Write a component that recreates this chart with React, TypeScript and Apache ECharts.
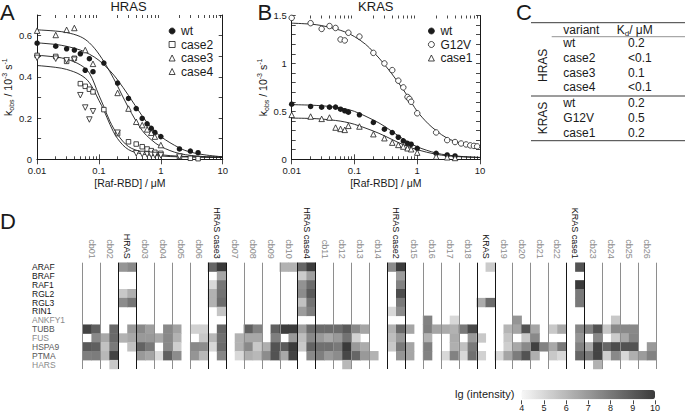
import React, { useEffect, useRef } from 'react';
import * as echarts from 'echarts';

const FONT = '"Liberation Sans", Arial, Helvetica, sans-serif';
const INK = '#1a1a1a';

// ---------------- Panel A : HRAS ----------------
const hrasWt = [[0.01,0.563],[0.02,0.549],[0.03,0.536],[0.04,0.53],[0.05,0.512],[0.06,0.432],[0.07,0.488],[0.08,0.425],[0.12,0.467],[0.2,0.37],[0.3,0.295],[0.4,0.246],[0.5,0.198],[0.6,0.172],[0.7,0.15],[0.8,0.13],[1,0.11],[2,0.05],[3,0.04],[4,0.032]];
const hrasCase2 = [[0.01,0.504],[0.02,0.499],[0.03,0.475],[0.04,0.49],[0.05,0.367],[0.06,0.354],[0.07,0.34],[0.08,0.327],[0.12,0.241],[0.2,0.125],[0.3,0.085],[0.4,0.074],[0.5,0.061],[0.6,0.05],[0.7,0.042],[0.8,0.034],[1,0.029],[2,0.013],[3,0.005],[4,0.003]];
const hrasCase3 = [[0.01,0.624],[0.02,0.603],[0.03,0.628],[0.04,0.637],[0.06,0.53],[0.08,0.463],[0.2,0.322],[0.3,0.246],[0.4,0.182],[0.5,0.166],[0.6,0.145],[0.7,0.129],[0.8,0.11],[1,0.069]];
const hrasCase4 = [[0.01,0.492],[0.02,0.488],[0.03,0.48],[0.04,0.483],[0.05,0.311],[0.06,0.251],[0.07,0.193],[0.08,0.233],[0.2,0.129],[0.4,0.029],[0.5,0.026],[0.6,0.024],[0.7,0.022],[0.8,0.021],[1,0.019],[2,0.013]];
const hrasWtFit = [[0.01,0.565],[0.02,0.557],[0.03,0.548],[0.05,0.53],[0.07,0.51],[0.1,0.48],[0.15,0.43],[0.2,0.385],[0.3,0.31],[0.5,0.21],[0.7,0.155],[1,0.11],[2,0.055],[3,0.035],[5,0.022],[10,0.012]];
const hrasCase3Fit = [[0.01,0.628],[0.02,0.622],[0.03,0.615],[0.05,0.595],[0.07,0.565],[0.1,0.51],[0.15,0.425],[0.2,0.355],[0.3,0.25],[0.5,0.14],[0.7,0.095],[1,0.062],[2,0.028],[5,0.013],[10,0.01]];
const hrasCase2Fit = [[0.01,0.505],[0.02,0.496],[0.03,0.486],[0.05,0.458],[0.07,0.418],[0.1,0.31],[0.12,0.255],[0.15,0.185],[0.2,0.12],[0.3,0.062],[0.5,0.036],[1,0.022],[2,0.015],[5,0.011],[10,0.01]];
const hrasCase4Fit = [[0.01,0.455],[0.02,0.446],[0.03,0.436],[0.05,0.41],[0.07,0.372],[0.1,0.285],[0.12,0.238],[0.15,0.17],[0.2,0.1],[0.3,0.047],[0.5,0.026],[1,0.016],[2,0.012],[10,0.01]];

// ---------------- Panel B : KRAS ----------------
const krasWt = [[0.01,0.575],[0.02,0.551],[0.03,0.544],[0.04,0.544],[0.05,0.544],[0.06,0.523],[0.07,0.506],[0.08,0.492],[0.12,0.464],[0.2,0.384],[0.3,0.314],[0.4,0.279],[0.5,0.23],[0.6,0.192],[0.7,0.167],[0.8,0.157],[1,0.115],[2,0.063],[3,0.045],[4,0.035]];
const krasG12V = [[0.01,1.475],[0.02,1.42],[0.03,1.36],[0.04,1.39],[0.05,1.37],[0.06,1.25],[0.07,1.24],[0.08,1.32],[0.12,1.28],[0.2,1.11],[0.3,1.0],[0.4,0.93],[0.5,0.82],[0.6,0.75],[0.7,0.65],[0.75,0.63],[0.8,0.6],[1,0.48],[2,0.28],[3,0.2],[4,0.18],[5,0.165],[6,0.155],[7,0.145],[8,0.14],[9,0.135]];
const krasCase1 = [[0.01,0.464],[0.02,0.446],[0.03,0.422],[0.04,0.436],[0.05,0.331],[0.06,0.317],[0.07,0.307],[0.08,0.349],[0.12,0.342],[0.2,0.262],[0.3,0.22],[0.4,0.174],[0.5,0.15],[0.6,0.133],[0.7,0.115],[0.8,0.105],[1,0.07],[2,0.028],[3,0.021],[4,0.014]];
const krasG12VFit = [[0.01,1.42],[0.02,1.41],[0.03,1.395],[0.05,1.36],[0.07,1.33],[0.1,1.28],[0.15,1.2],[0.2,1.12],[0.3,0.99],[0.5,0.8],[0.7,0.66],[1,0.5],[1.5,0.37],[2,0.3],[3,0.22],[5,0.17],[10,0.13]];
const krasWtFit = [[0.01,0.57],[0.02,0.565],[0.03,0.558],[0.05,0.545],[0.07,0.527],[0.1,0.5],[0.2,0.41],[0.3,0.345],[0.5,0.245],[0.7,0.185],[1,0.13],[2,0.065],[3,0.045],[5,0.03],[10,0.02]];
const krasCase1Fit = [[0.01,0.43],[0.02,0.426],[0.03,0.42],[0.05,0.405],[0.07,0.39],[0.1,0.365],[0.2,0.295],[0.3,0.245],[0.5,0.175],[0.7,0.135],[1,0.1],[2,0.052],[3,0.037],[5,0.026],[10,0.018]];

// ---------------- axis ticks ----------------
const logMajorTicks = [0.01, 0.1, 1, 10];
const logMinorTicks = [0.02,0.03,0.04,0.05,0.06,0.07,0.08,0.09,0.2,0.3,0.4,0.5,0.6,0.7,0.8,0.9,2,3,4,5,6,7,8,9];
const yTicksA = [0, 0.1, 0.2, 0.3, 0.4, 0.5, 0.6, 0.7];
const yLabelsA = [0, 0.2, 0.4, 0.6];
const yTicksB = [0, 0.1, 0.2, 0.3, 0.4, 0.5, 0.6, 0.7, 0.8, 0.9, 1, 1.1, 1.2, 1.3, 1.4, 1.5];
const yLabelsB = [0, 0.5, 1, 1.5];

// ---------------- Panel C : table ----------------
const tableGroups = ['HRAS', 'KRAS'];
const hrasVariants = ['wt', 'case2', 'case3', 'case4'];
const hrasKd = ['0.2', '<0.1', '0.1', '<0.1'];
const krasVariants = ['wt', 'G12V', 'case1'];
const krasKd = ['0.2', '0.5', '0.2'];

// ---------------- Panel D : heatmap ----------------
const heatRows = ['ARAF','BRAF','RAF1','RGL2','RGL3','RIN1','ANKFY1','TUBB','FUS','HSPA9','PTMA','HARS'];
const rowLabelColors = ['#151515','#151515','#151515','#151515','#151515','#151515','#8a8a8a','#555555','#8a8a8a','#5a5a5a','#555555','#8a8a8a'];
const screenCols = ['cb01','cb02','HRAS','cb03','cb04','cb05','cb06','HRAS case3','cb07','cb08','cb09','cb10','HRAS case4','cb11','cb12','cb13','cb14','HRAS case2','cb15','cb16','cb17','cb18','KRAS','cb19','cb20','cb21','cb22','KRAS case1','cb23','cb24','cb25','cb26'];
const baitCols = ['HRAS','HRAS case3','HRAS case4','HRAS case2','KRAS','KRAS case1'];
const colorbarTicks = [4, 5, 6, 7, 8, 9, 10];
const E = null;
// each row: 32 columns x 2 replicate cells, lg(intensity), null = not detected
const rowARAF = [
  [E,E],[E,E],[7.1,7.5],[E,E],[E,E],[E,E],[E,E],[8.6,10],
  [E,E],[E,E],[E,E],[6.2,6.2],[8.6,9.9],[E,E],[E,E],[E,E],
  [E,E],[7.4,9.9],[E,E],[E,E],[E,E],[E,E],[E,5.4],[E,E],
  [E,E],[E,E],[E,E],[E,9.2],[E,E],[E,E],[E,E],[E,E]];
const rowBRAF = [
  [E,E],[E,E],[E,E],[E,E],[E,E],[E,E],[E,E],[E,6.6],
  [E,E],[E,E],[E,E],[E,E],[5.4,6.8],[E,E],[E,E],[E,E],
  [E,E],[E,6.9],[E,E],[E,E],[E,E],[E,E],[E,E],[E,E],
  [E,E],[E,E],[E,E],[E,E],[E,E],[E,E],[E,E],[E,E]];
const rowRAF1 = [
  [E,E],[E,E],[E,E],[E,E],[E,E],[E,E],[E,E],[5.0,8.1],
  [E,E],[E,E],[E,E],[E,E],[7.2,8.4],[E,E],[E,E],[E,E],
  [E,E],[E,7.7],[E,E],[E,E],[E,E],[E,E],[E,E],[E,E],
  [E,E],[E,E],[E,E],[E,10],[E,E],[E,E],[E,E],[E,E]];
const rowRGL2 = [
  [E,E],[E,E],[5.5,6.3],[E,E],[E,E],[E,E],[E,E],[6.2,8.2],
  [E,E],[E,E],[E,E],[E,E],[7.4,9.0],[E,E],[E,E],[E,E],
  [E,E],[E,9.4],[E,E],[E,E],[E,E],[E,E],[E,E],[E,E],
  [E,E],[E,E],[E,E],[E,8.0],[E,E],[E,E],[E,E],[E,E]];
const rowRGL3 = [
  [E,E],[E,E],[7.4,8.1],[E,E],[E,E],[E,E],[E,E],[6.2,8.4],
  [E,E],[E,E],[E,E],[E,E],[5.7,8.2],[E,E],[E,E],[E,E],
  [E,E],[E,8.0],[E,E],[E,E],[E,E],[E,E],[6.4,8.4],[E,E],
  [E,E],[E,E],[E,E],[E,8.0],[E,E],[E,E],[E,E],[E,E]];
const rowRIN1 = [
  [E,E],[E,E],[E,E],[E,E],[E,E],[E,E],[E,E],[E,5.6],
  [E,E],[E,E],[E,E],[E,E],[6.9,7.8],[E,E],[E,E],[E,E],
  [E,E],[5.0,7.4],[E,E],[E,E],[E,E],[E,E],[E,E],[E,E],
  [E,E],[E,E],[E,E],[E,E],[E,E],[E,E],[E,E],[E,E]];
const rowANKFY1 = [
  [E,E],[E,E],[E,E],[E,E],[E,E],[E,E],[E,E],[E,E],
  [E,E],[E,E],[E,E],[E,E],[E,E],[E,E],[E,E],[E,E],
  [E,E],[E,E],[E,E],[7.7,E],[E,5.0],[E,E],[E,E],[E,E],
  [7.1,E],[E,E],[E,E],[E,E],[E,E],[E,5.5],[E,E],[E,E]];
const rowTUBB = [
  [9.7,8.8],[E,8.5],[E,7.0],[7.5,6.8],[E,7.5],[6.7,E],[5.2,5.2],[E,8.6],
  [E,E],[8.8,7.7],[E,8.8],[9.9,9.9],[6.8,8.4],[8.4,8.4],[8.4,9.0],[7.5,6.6],
  [E,E],[6.2,8.5],[6.6,E],[7.8,6.6],[6.4,6.2],[8.0,9.5],[E,E],[E,6.1],
  [6.6,9.2],[6.6,E],[5.5,6.5],[E,7.6],[7.7,9.2],[5.5,7.5],[7.5,7.5],[E,E]];
const rowFUS = [
  [E,7.5],[6.5,8.5],[6.2,6.5],[7.0,7.0],[6.5,7.5],[6.2,E],[E,5.5],[6.0,8.3],
  [E,6.2],[6.5,6.5],[E,7.8],[E,7.0],[5.8,7.5],[7.0,6.5],[7.0,8.2],[5.2,E],
  [E,E],[5.8,7.0],[E,E],[6.2,E],[E,6.4],[E,7.0],[5.5,E],[E,5.6],
  [E,5.5],[7.5,E],[E,E],[E,7.1],[E,7.5],[E,5.4],[6.5,7.6],[E,E]];
const rowHSPA9 = [
  [9.0,8.8],[5.7,8.0],[E,5.7],[8.7,8.0],[E,7.5],[5.3,E],[7.5,7.4],[5.0,8.4],
  [E,6.2],[7.5,5.5],[6.3,9.2],[9.0,10],[5.5,8.7],[8.3,8.3],[8.0,10],[7.0,6.4],
  [E,E],[5.5,8.0],[6.6,E],[7.8,E],[E,6.3],[5.7,8.0],[E,E],[E,5.3],
  [6.5,7.5],[9.8,7.7],[6.5,8.0],[E,7.7],[6.5,9.7],[8.6,9.4],[9.2,9.2],[E,7.0]];
const rowPTMA = [
  [7.8,7.9],[6.0,9.7],[E,E],[7.0,6.6],[4.9,8.8],[7.4,E],[7.1,6.0],[E,7.6],
  [E,5.0],[6.3,6.0],[7.4,9.2],[6.5,9.7],[E,7.5],[7.8,7.0],[7.4,9.6],[8.6,7.0],
  [6.2,E],[E,7.1],[6.6,E],[7.7,E],[5.0,7.7],[5.0,8.3],[5.2,E],[5.0,6.6],
  [7.9,9.2],[6.3,E],[5.5,5.0],[E,8.6],[8.0,9.7],[5.3,7.5],[5.0,6.3],[6.9,7.7]];
const rowHARS = [
  [E,E],[E,5.5],[E,E],[E,E],[E,E],[E,E],[E,E],[E,E],
  [E,E],[E,E],[E,E],[E,E],[E,E],[E,E],[E,6.0],[E,E],
  [E,E],[E,E],[E,E],[E,E],[E,E],[E,E],[E,E],[E,E],
  [E,E],[E,E],[E,E],[E,E],[E,6.2],[E,E],[E,E],[E,E]];
const heatValues = [rowARAF, rowBRAF, rowRAF1, rowRGL2, rowRGL3, rowRIN1, rowANKFY1, rowTUBB, rowFUS, rowHSPA9, rowPTMA, rowHARS];

// ---------------- layout ----------------
const GA = { left: 35, top: 15, width: 187.7, height: 144.3 };
const GB = { left: 291.7, top: 15.5, width: 188.3, height: 143.8 };
const GD = { left: 82.7, top: 262.7, width: 573.3, height: 106.3 };
const GCB = { left: 521.7, top: 399.3, width: 133.3, height: 1 };

const tickLabel = { fontSize: 9.5, color: INK, fontFamily: FONT };
const richName = {
  t: { fontSize: 10.5, lineHeight: 14, fontFamily: FONT, color: INK },
  sup: { fontSize: 7, lineHeight: 8, verticalAlign: 'top', fontFamily: FONT, color: INK },
  sub: { fontSize: 7, lineHeight: 8, verticalAlign: 'bottom', fontFamily: FONT, color: INK },
};

function logX(grid: number, position: string, ticks: number[], len: number, line: boolean, labels: boolean) {
  const ax: any = {
    type: 'log', logBase: 10, gridIndex: grid, position, min: 0.01, max: 10,
    axisLine: { show: line, lineStyle: { color: INK, width: 1 } },
    axisTick: { show: true, inside: true, length: len, customValues: ticks, lineStyle: { color: INK, width: 0.8 } },
    axisLabel: labels
      ? { show: true, customValues: logMajorTicks, margin: 6, formatter: (v: number) => String(v), ...tickLabel }
      : { show: false },
    splitLine: { show: false },
    minorTick: { show: false },
  };
  if (labels) {
    ax.name = '[Raf-RBD] / μM';
    ax.nameLocation = 'middle';
    ax.nameGap = 18;
    ax.nameTextStyle = { fontSize: 10.5, fontFamily: FONT, color: INK };
  }
  return ax;
}

function linY(grid: number, position: string, max: number, ticks: number[], labels: number[] | null, gap: number) {
  const ax: any = {
    type: 'value', gridIndex: grid, position, min: 0, max,
    axisLine: { show: true, lineStyle: { color: INK, width: 1 } },
    axisTick: { show: true, inside: true, length: 4, customValues: ticks, lineStyle: { color: INK, width: 0.8 } },
    axisLabel: labels
      ? { show: true, customValues: labels, margin: 5, formatter: (v: number) => String(v), ...tickLabel }
      : { show: false },
    splitLine: { show: false },
  };
  if (labels) {
    ax.name = '{t|k}{sub|obs}{t| / 10}{sup|-3}{t| s}{sup|-1}';
    ax.nameLocation = 'middle';
    ax.nameGap = gap;
    ax.nameTextStyle = { rich: richName };
  }
  return ax;
}

function scatter(name: string, data: number[][], xi: number, yi: number, symbol: string, size: number, filled: boolean, rotate = 0) {
  return {
    type: 'scatter', name, data, xAxisIndex: xi, yAxisIndex: yi, symbol, symbolSize: size, symbolRotate: rotate,
    itemStyle: { color: filled ? INK : '#ffffff', borderColor: INK, borderWidth: filled ? 0 : 0.8, opacity: 1 },
    z: 3, silent: true,
  };
}
function fit(name: string, data: number[][], xi: number, yi: number) {
  return {
    type: 'line', name, data, xAxisIndex: xi, yAxisIndex: yi, showSymbol: false, symbol: 'none', smooth: 0.35,
    lineStyle: { color: INK, width: 0.9 }, z: 2, silent: true,
  };
}

function buildOption() {
  const subCols: string[] = [];
  screenCols.forEach((c) => { subCols.push(c + ' #1'); subCols.push(c + ' #2'); });
  const heatData: number[][] = [];
  heatValues.forEach((row, r) => row.forEach((pair, k) => pair.forEach((v, s) => {
    if (v !== null) heatData.push([2 * k + s, r, v as number]);
  })));
  const boundaryColors = Array.from({ length: screenCols.length + 1 }, (_, i) =>
    baitCols.includes(screenCols[i]) || baitCols.includes(screenCols[i - 1]) ? '#161616' : '#8e8e8e');

  const series: any[] = [
    scatter('wt', hrasWt, 0, 0, 'circle', 5.5, true),
    scatter('case2', hrasCase2, 0, 0, 'rect', 4.5, false),
    scatter('case3', hrasCase3, 0, 0, 'triangle', 5.5, false),
    scatter('case4', hrasCase4, 0, 0, 'triangle', 5.5, false, 180),
    fit('fit wt A', hrasWtFit, 0, 0),
    fit('fit case2', hrasCase2Fit, 0, 0),
    fit('fit case3', hrasCase3Fit, 0, 0),
    fit('fit case4', hrasCase4Fit, 0, 0),
    scatter('wt', krasWt, 4, 2, 'circle', 5.5, true),
    scatter('G12V', krasG12V, 4, 2, 'circle', 5.5, false),
    scatter('case1', krasCase1, 4, 2, 'triangle', 5.5, false),
    fit('fit wt B', krasWtFit, 4, 2),
    fit('fit G12V', krasG12VFit, 4, 2),
    fit('fit case1', krasCase1Fit, 4, 2),
  ];
  const heatIndex = series.length;
  series.push({
    type: 'heatmap', xAxisIndex: 8, yAxisIndex: 4, data: heatData,
    itemStyle: { borderWidth: 0 }, emphasis: { disabled: true }, silent: true, z: 2,
  });
  series.push({ type: 'scatter', xAxisIndex: 10, yAxisIndex: 5, data: [], silent: true });

  const g: any[] = [];
  const txt = (text: string, x: number, y: number, size: number, extra: any = {}, el: any = {}) => ({
    type: 'text', x, y, silent: true, ...el,
    style: { text, fontSize: size, fontFamily: FONT, fill: INK, align: 'left', verticalAlign: 'middle', ...extra },
  });
  const hline = (x1: number, x2: number, y: number, w = 1, c = '#3a3a3a') => ({
    type: 'line', silent: true, shape: { x1, y1: y, x2, y2: y }, style: { stroke: c, lineWidth: w },
  });
  // panel letters and titles
  g.push(txt('A', 0, 12, 22));
  g.push(txt('B', 257.5, 12, 22));
  g.push(txt('C', 516, 12, 22));
  g.push(txt('D', 0, 221, 22));
  g.push(txt('HRAS', 128.5, 6.5, 13, { align: 'center' }));
  g.push(txt('KRAS', 375.8, 6.5, 13, { align: 'center' }));
  // table C
  const T = { left: 531, rule2: 551.7, right: 685, group: 543.3, name: 563.3, kd: 628, rowH: 14.7 };
  g.push(hline(T.left, T.right, 22.7, 1));
  g.push(txt('variant', T.name, 30, 12));
  g.push({
    type: 'text', x: 616.7, y: 30, silent: true,
    style: {
      text: '{k|K}{d|d}{k|/ μM}', align: 'left', verticalAlign: 'middle',
      rich: {
        k: { fontSize: 12, lineHeight: 14, fontFamily: FONT, fill: INK, color: INK },
        d: { fontSize: 8, lineHeight: 8, verticalAlign: 'bottom', fontFamily: FONT, fill: INK, color: INK },
      },
    },
  });
  g.push(hline(T.rule2, T.right, 36.7, 0.7, '#666'));
  const groups = [
    { name: tableGroups[0], variants: hrasVariants, kd: hrasKd, y0: 43.3 },
    { name: tableGroups[1], variants: krasVariants, kd: krasKd, y0: 103.3 },
  ];
  groups.forEach((grp) => {
    grp.variants.forEach((v, i) => {
      const y = grp.y0 + i * T.rowH;
      g.push(txt(v, T.name, y, 12));
      g.push(txt(grp.kd[i], T.kd, y, 12));
    });
    const yc = grp.y0 + ((grp.variants.length - 1) * T.rowH) / 2;
    g.push(txt(grp.name, T.group, yc, 12, { align: 'center' }, { rotation: Math.PI / 2 }));
  });
  g.push(hline(T.left, T.right, 96, 1));
  g.push(hline(T.left, T.right, 140.7, 1));
  // colour bar title
  g.push(txt('lg (intensity)', 455, 393.8, 11));

  const legendBase = {
    orient: 'vertical', top: 25, padding: 0, itemWidth: 6, itemHeight: 6, itemGap: 1.5, selectedMode: false,
    itemStyle: { borderWidth: 0.8 },
    textStyle: { fontSize: 12, fontFamily: FONT, color: INK, padding: [0, 0, 0, 1] },
  };

  return {
    animation: false,
    backgroundColor: '#ffffff',
    textStyle: { fontFamily: FONT },
    grid: [
      { ...GA, containLabel: false },
      { ...GB, containLabel: false },
      { ...GD, containLabel: false },
      { ...GCB, containLabel: false },
    ],
    xAxis: [
      logX(0, 'bottom', logMajorTicks, 5, true, true),
      logX(0, 'top', logMajorTicks, 5, true, false),
      logX(0, 'bottom', logMinorTicks, 3, false, false),
      logX(0, 'top', logMinorTicks, 3, false, false),
      logX(1, 'bottom', logMajorTicks, 5, true, true),
      logX(1, 'top', logMajorTicks, 5, true, false),
      logX(1, 'bottom', logMinorTicks, 3, false, false),
      logX(1, 'top', logMinorTicks, 3, false, false),
      { type: 'category', gridIndex: 2, position: 'bottom', data: subCols, show: false, boundaryGap: true },
      {
        type: 'category', gridIndex: 2, position: 'top', data: screenCols, boundaryGap: true, z: 10,
        axisLine: { show: false }, axisTick: { show: false },
        axisLabel: {
          interval: 0, rotate: 90, margin: 4, fontSize: 9, fontFamily: FONT,
          color: (v: string) => (baitCols.includes(v) ? '#111111' : '#8a8a8a'),
        },
        splitLine: { show: true, interval: 0, lineStyle: { color: boundaryColors, width: 1 } },
      },
      {
        type: 'value', gridIndex: 3, position: 'bottom', min: 4, max: 10, interval: 1,
        axisLine: { show: false },
        axisTick: { show: true, inside: false, length: 4, lineStyle: { color: INK, width: 0.8 }, customValues: colorbarTicks },
        axisLabel: { margin: 3, fontSize: 9, color: INK, fontFamily: FONT, customValues: colorbarTicks },
        splitLine: { show: false },
      },
    ],
    yAxis: [
      linY(0, 'left', 0.7, yTicksA, yLabelsA, 20),
      linY(0, 'right', 0.7, yTicksA, null, 0),
      linY(1, 'left', 1.5, yTicksB, yLabelsB, 20),
      linY(1, 'right', 1.5, yTicksB, null, 0),
      {
        type: 'category', gridIndex: 2, data: heatRows, inverse: true,
        axisLine: { show: false }, axisTick: { show: false }, splitLine: { show: false },
        axisLabel: {
          interval: 0, align: 'left', margin: 50.7, fontSize: 8.5, fontFamily: FONT,
          color: (_v: string, i: number) => rowLabelColors[i],
        },
      },
      { type: 'value', gridIndex: 3, show: false },
    ],
    legend: [
      { ...legendBase, data: ['wt', 'case2', 'case3', 'case4'], left: 168.7 },
      { ...legendBase, data: ['wt', 'G12V', 'case1'], left: 428 },
    ],
    visualMap: {
      type: 'continuous', seriesIndex: heatIndex, dimension: 2, min: 4, max: 10,
      orient: 'horizontal', left: 521.7, top: 390, itemWidth: 9.3, itemHeight: 133.3,
      padding: 0, calculable: false, realtime: false, hoverLink: false,
      inRange: { color: ['#f7f7f7', '#3a3a3a'] },
    },
    graphic: g,
    series,
  };
}

export default function App() {
  const ref = useRef<HTMLDivElement>(null);
  useEffect(() => {
    if (!ref.current) return;
    const chart = echarts.init(ref.current, null, { renderer: 'svg' });
    chart.setOption(buildOption() as any);
    return () => chart.dispose();
  }, []);
  return <div ref={ref} style={{ position: 'absolute', left: 0, top: 0, width: 685, height: 415 }} />;
}
